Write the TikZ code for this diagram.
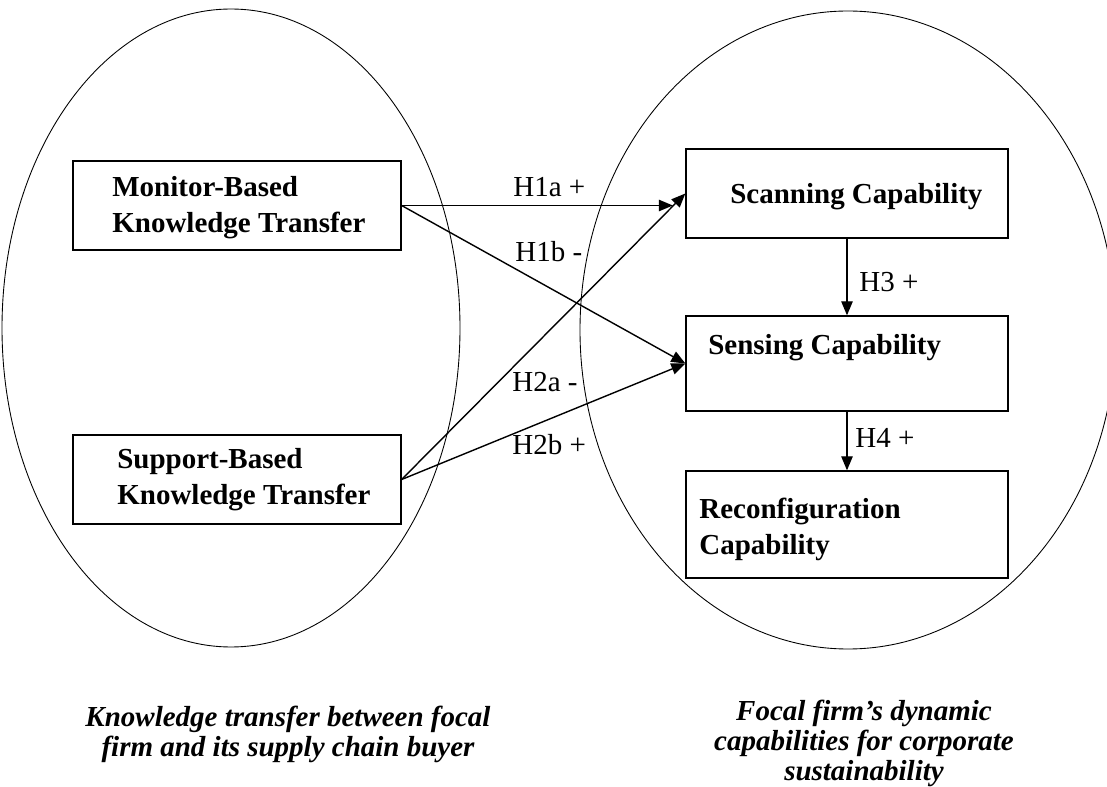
\documentclass[tikz,border=0pt]{standalone}
\usepackage{fontspec}
\setmainfont{Liberation Serif}
\usetikzlibrary{arrows.meta}
\begin{document}
\begin{tikzpicture}[x=0.02cm,y=-0.02cm,
  box/.style={draw, line width=0.75pt, inner sep=0pt},
  boxtext/.style={font=\fontsize{16.5}{20.5}\selectfont\bfseries, align=left, anchor=base west, inner sep=0pt},
  hyp/.style={font=\fontsize{16.5}{20}\selectfont, anchor=base west, inner sep=0pt},
  captext/.style={font=\fontsize{16.5}{17}\selectfont\bfseries\itshape, align=center, anchor=base, inner sep=0pt},
  link/.style={line width=0.8pt, -{Triangle[length=8pt,width=6.5pt]}},
  realm/.style={line width=0.5pt}]
\useasboundingbox (0,0) rectangle (1107,787);
\clip (0,0) rectangle (1107,787);

% the two domains
\draw[realm] (231,328) ellipse [x radius=229, y radius=319];
\draw[realm] (848,330) ellipse [x radius=268, y radius=319];

% construct boxes
\node[box, minimum width=6.56cm, minimum height=1.78cm] (mon)   at (237,205.5) {};
\node[box, minimum width=6.56cm, minimum height=1.78cm] (sup)   at (237,479.5) {};
\node[box, minimum width=6.44cm, minimum height=1.78cm] (scan)  at (847,193.5) {};
\node[box, minimum width=6.44cm, minimum height=1.9cm]  (sens)  at (847,363.5) {};
\node[box, minimum width=6.44cm, minimum height=2.14cm] (recon) at (847,524.5) {};

% box labels (anchored on the baseline of their last line)
\node[boxtext] (monT)   at (112,233) {Monitor-Based\\Knowledge Transfer};
\node[boxtext] (supT)   at (117,505) {Support-Based\\Knowledge Transfer};
\node[boxtext] (scanT)  at (730,204) {Scanning Capability};
\node[boxtext] (sensT)  at (708,355) {Sensing Capability};
\node[boxtext] (reconT) at (699,555) {Reconfiguration\\Capability};

% hypothesised paths
\draw[link, shorten >=0.25cm] (mon.east) -- (mon.east -| scan.west);
\draw[link] (mon.east) -- (sens.west);
\draw[link] (sup.east) -- (scan.west);
\draw[link] (sup.east) -- (sens.west);
\draw[link] (scan.south) -- (sens.north);
\draw[link] (sens.south) -- (recon.north);

\node[hyp] (h1a) at (513,197) {H1a +};
\node[hyp] (h1b) at (515,262) {H1b -};
\node[hyp] (h2a) at (512,392) {H2a -};
\node[hyp] (h2b) at (512,455) {H2b +};
\node[hyp] (h3)  at (859,292) {H3 +};
\node[hyp] (h4)  at (855,448) {H4 +};

% domain captions
\node[captext] (capL) at (288,756) {Knowledge transfer between focal\\firm and its supply chain buyer};
\node[captext] (capR) at (864,780) {Focal firm’s dynamic\\capabilities for corporate\\sustainability};
\end{tikzpicture}
\end{document}
